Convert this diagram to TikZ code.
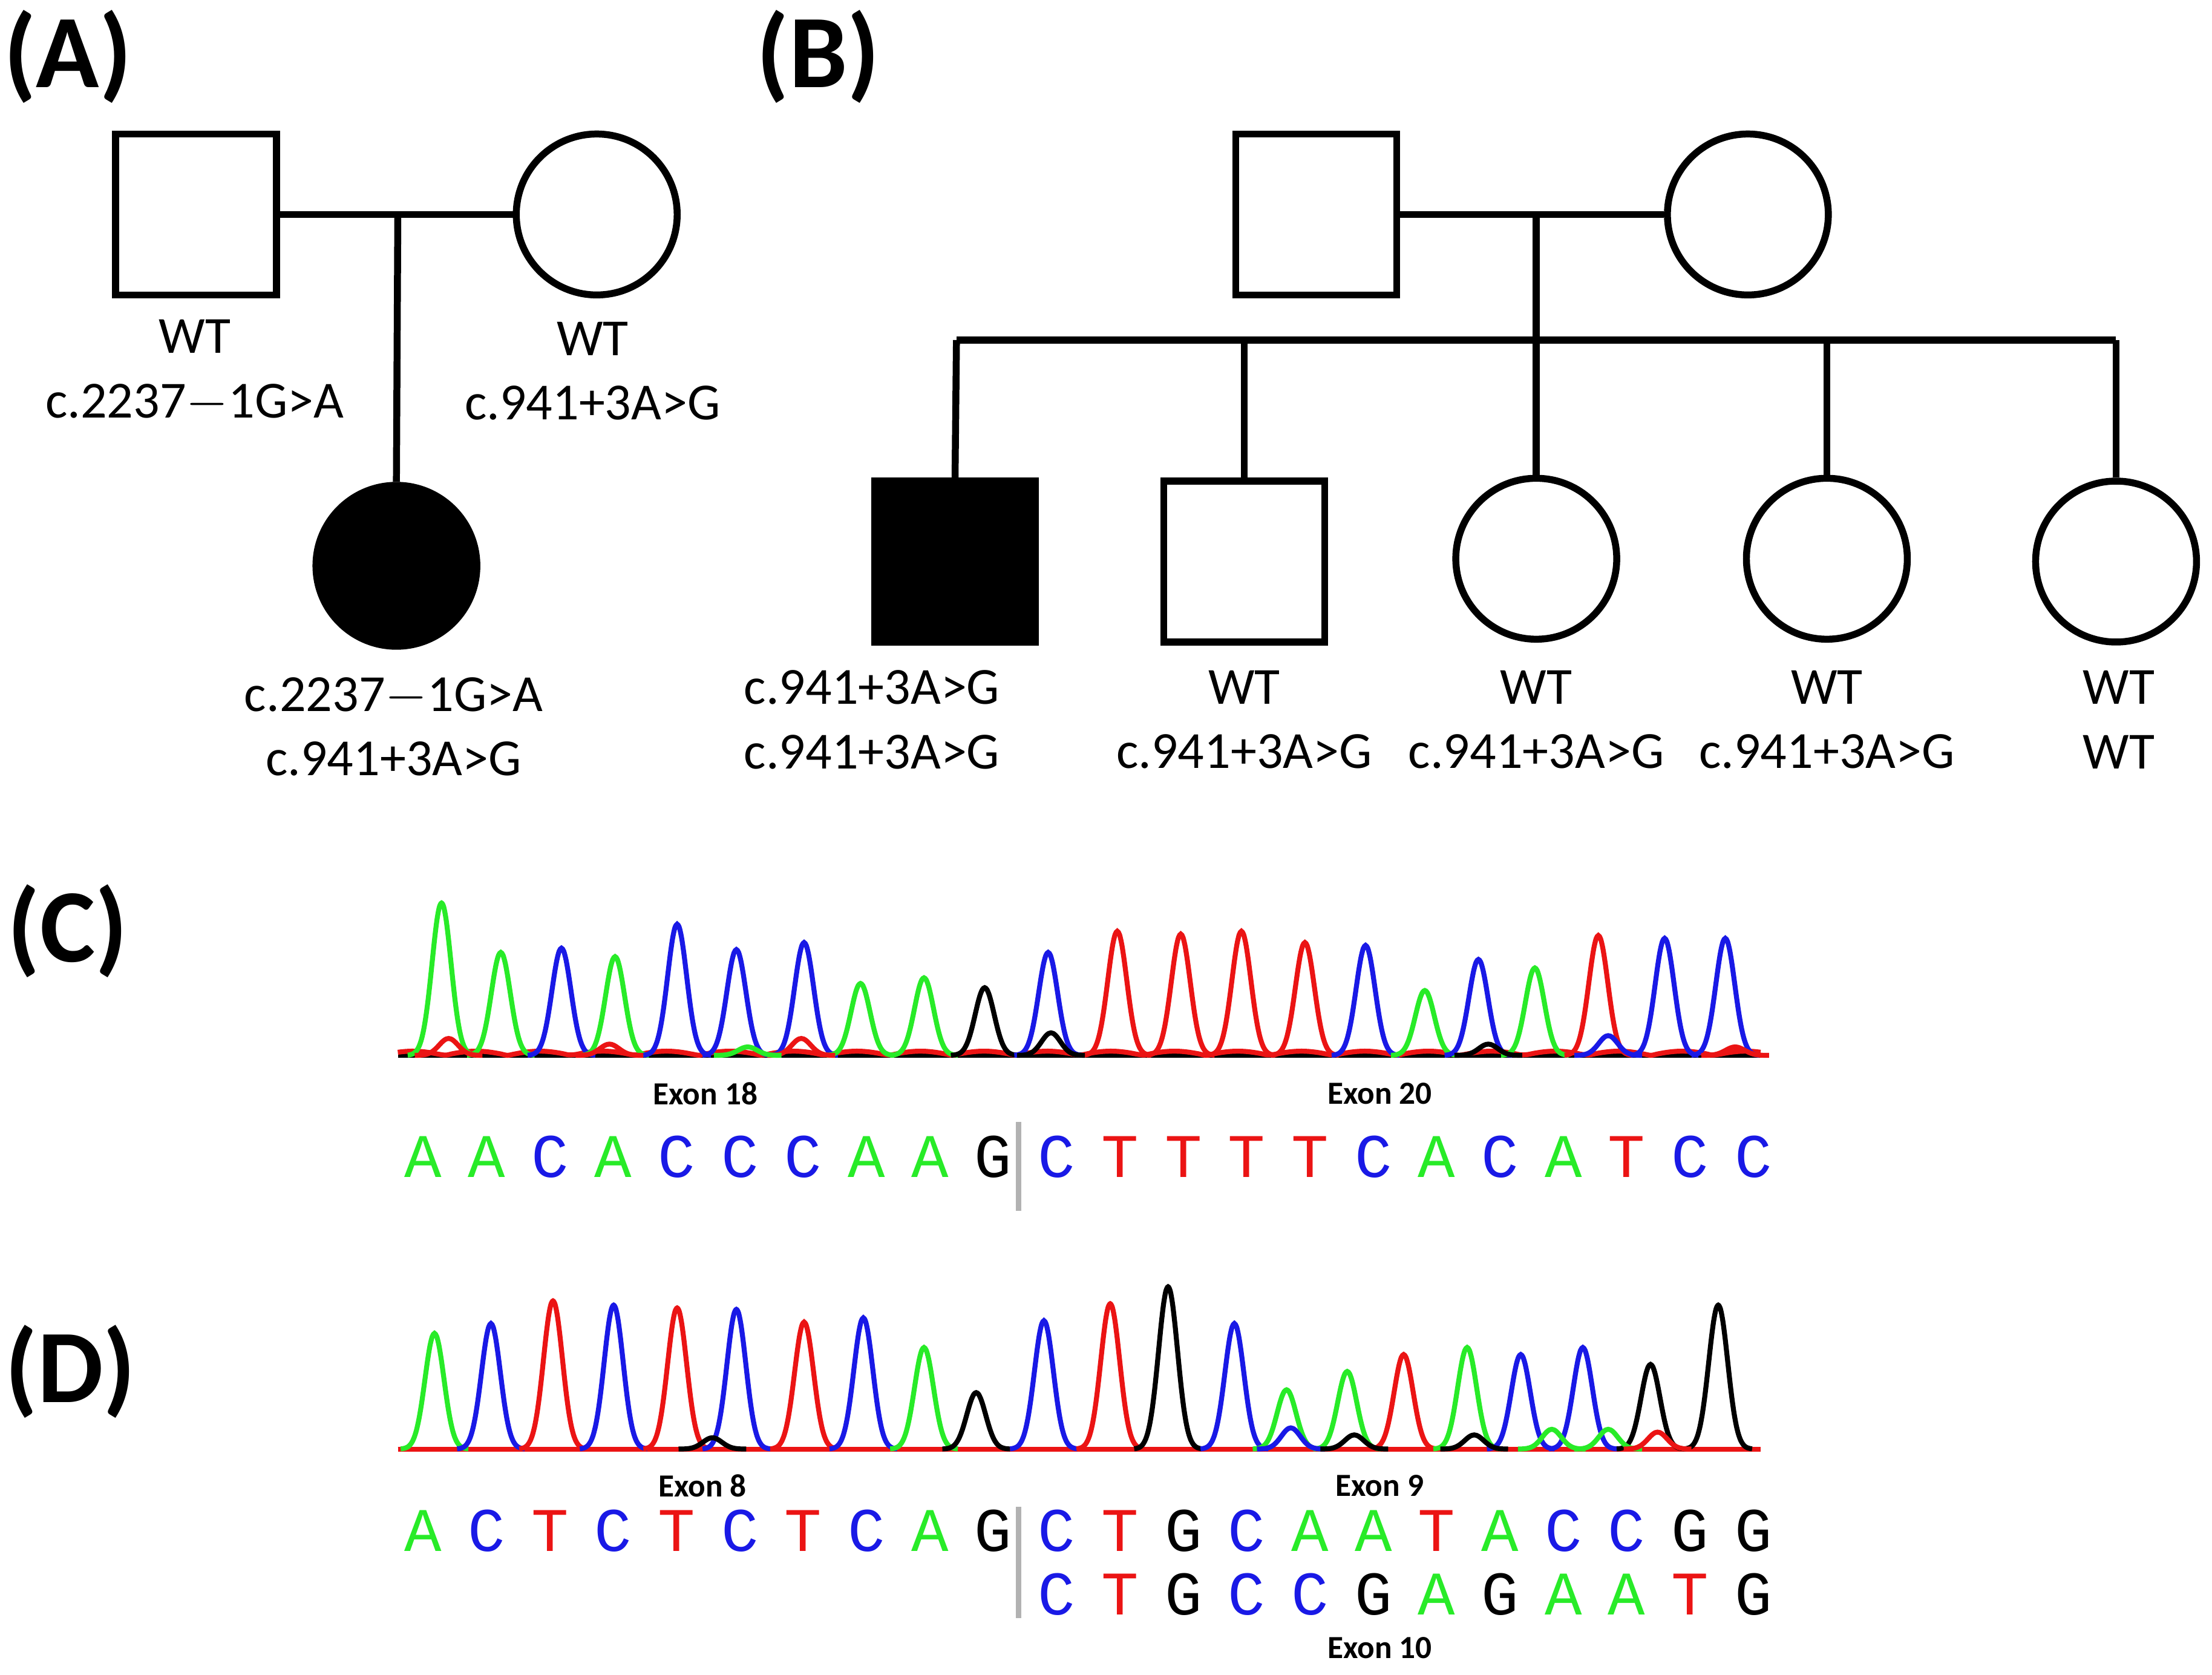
\documentclass[tikz,border=0pt]{standalone}
\usepackage{fontspec}
\setmainfont{Carlito}
\newfontfamily\monof{Liberation Mono}
\definecolor{cg}{RGB}{40,235,40}
\definecolor{cb}{RGB}{25,25,230}
\definecolor{cr}{RGB}{235,20,20}
\definecolor{ck}{RGB}{0,0,0}
\begin{document}
\begin{tikzpicture}[x=0.01cm,y=-0.01cm,
  ped/.style={line width=1.4pt,draw=black},
  sq/.style={ped,rectangle,minimum size=1.14cm,inner sep=0},
  ci/.style={ped,circle,minimum size=1.14cm,inner sep=0},
  lbl/.style={font=\fontsize{10.5}{13}\selectfont,align=center},
  pan/.style={font=\fontsize{21}{24}\selectfont\bfseries},
  base/.style={font=\monof\fontsize{12.5}{14}\selectfont},
  exon/.style={font=\fontsize{6.5}{8}\selectfont\bfseries},
  tr/.style={line width=1pt}]
\useasboundingbox (0,0) rectangle (1568,1187);
% panel labels
\node[pan] (pA) at (48,40) {(A)};
\node[pan] (pB) at (580,40) {(B)};
\node[pan] (pC) at (48,660) {(C)};
\node[pan] (pD) at (50,972) {(D)};
% pedigree A
\node[sq] (af) at (139,152) {};
\node[ci] (am) at (423,152) {};
\node[ci,fill=black] (ac) at (281,401) {};
\coordinate (aj) at (282,152);
\draw[ped] (af.east) -- (am.west);
\draw[ped] (aj) -- (ac.north);
\node[lbl] (afl) at (138,263) {WT\\c.2237$-$1G>A};
\node[lbl] (aml) at (420,263) {WT\\c.941+3A>G};
\node[lbl] (acl) at (279,515) {c.2237$-$1G>A\\c.941+3A>G};
% pedigree B
\node[sq] (bf) at (933,152) {};
\node[ci] (bm) at (1239,152) {};
\coordinate (bj) at (1089,152);
\coordinate (bs) at (1089,241);
\coordinate (bl) at (678,241);
\coordinate (br) at (1500,241);
\draw[ped] (bf.east) -- (bm.west);
\draw[ped] (bj) -- (bs);
\draw[ped] (bl) -- (br);
\node[sq,fill=black] (c1) at (677,398) {};
\node[sq] (c2) at (882,398) {};
\node[ci] (c3) at (1089,396) {};
\node[ci] (c4) at (1295,396) {};
\node[ci] (c5) at (1500,398) {};
\foreach \c/\p in {c1/678,c2/882,c3/1089,c4/1295,c5/1500}{
  \coordinate (t\c) at (\p,241);
  \draw[ped] (t\c) -- (\c.north);}
\node[lbl] (l1) at (618,510) {c.941+3A>G\\c.941+3A>G};
\node[lbl] (l2) at (882,510) {WT\\c.941+3A>G};
\node[lbl] (l3) at (1089,510) {WT\\c.941+3A>G};
\node[lbl] (l4) at (1295,510) {WT\\c.941+3A>G};
\node[lbl] (l5) at (1502,510) {WT\\WT};
% chromatogram C
\foreach \col in {cg,cb,ck}{\draw[tr,\col] (282,748) -- (1248,748);}
\draw[tr,cr] plot[domain=282:1248,samples=200,smooth] (\x,{748-3*abs(sin(\x*4))});
\foreach \p/\h/\col in {313/108/cg,355/73/cg,398/76/cb,436/70/cg,480/93/cb,522/75/cb,570/80/cb,610/51/cg,655/55/cg,698/48/ck,743/73/cb,792/88/cr,837/86/cr,880/88/cr,925/80/cr,968/78/cb,1010/46/cg,1048/68/cb,1088/62/cg,1133/85/cr,1180/83/cb,1223/83/cb,
 745/16/ck,568/12/cr,432/8/cr,530/6/cg,1055/8/ck,1140/14/cb,318/12/cr,1230/6/cr}{
  \draw[tr,\col] plot[domain=\p-24:\p+24,samples=31,smooth] (\x,{748-\h*exp(-((\x-\p)/9.5)^2)});}
% chromatogram D
\foreach \col in {cg,cb,ck,cr}{\draw[tr,\col] (282,1027) -- (1248,1027);}
\foreach \p/\h/\col in {308/82/cg,348/89/cb,392/105/cr,435/102/cb,480/100/cr,522/99/cb,570/90/cr,612/93/cb,655/72/cg,692/40/ck,740/91/cb,787/103/cr,828/115/ck,875/89/cb,912/42/cg,955/55/cg,995/67/cr,1040/72/cg,1078/67/cb,1122/72/cb,1170/60/ck,1218/102/ck,
 505/8/ck,915/15/cb,960/10/ck,1045/10/ck,1100/14/cg,1140/14/cg,1175/12/cr}{
  \draw[tr,\col] plot[domain=\p-24:\p+24,samples=31,smooth] (\x,{1027-\h*exp(-((\x-\p)/9.5)^2)});}
% exon labels
\node[exon] (e18) at (500,775) {Exon 18};
\node[exon] (e20) at (978,775) {Exon 20};
\node[exon] (e8) at (498,1053) {Exon 8};
\node[exon] (e9) at (978,1053) {Exon 9};
\node[exon] (e10) at (978,1168) {Exon 10};
% separators
\draw[gray!60,line width=1pt] (722,795) -- (722,858);
\draw[gray!60,line width=1pt] (722,1068) -- (722,1147);
% bases C
\foreach \b/\col [count=\i] in {A/cg,A/cg,C/cb,A/cg,C/cb,C/cb,C/cb,A/cg,A/cg,G/ck,C/cb,T/cr,T/cr,T/cr,T/cr,C/cb,A/cg,C/cb,A/cg,T/cr,C/cb,C/cb}{
  \pgfmathsetmacro\xx{300+(\i-1)*44.9}
  \node[base,text=\col] (bc\i) at (\xx,820) {\b};}
% bases D row 1
\foreach \b/\col [count=\i] in {A/cg,C/cb,T/cr,C/cb,T/cr,C/cb,T/cr,C/cb,A/cg,G/ck,C/cb,T/cr,G/ck,C/cb,A/cg,A/cg,T/cr,A/cg,C/cb,C/cb,G/ck,G/ck}{
  \pgfmathsetmacro\xx{300+(\i-1)*44.9}
  \node[base,text=\col] (bd\i) at (\xx,1085) {\b};}
% bases D row 2
\foreach \b/\col [count=\i] in {C/cb,T/cr,G/ck,C/cb,C/cb,G/ck,A/cg,G/ck,A/cg,A/cg,T/cr,G/ck}{
  \pgfmathsetmacro\xx{300+(\i+9)*44.9}
  \node[base,text=\col] (be\i) at (\xx,1130) {\b};}
\end{tikzpicture}
\end{document}
